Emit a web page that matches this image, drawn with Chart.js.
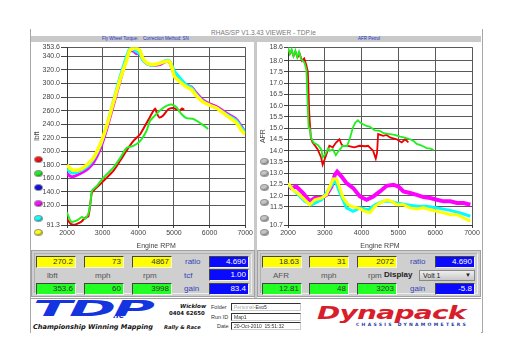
<!DOCTYPE html>
<html>
<head>
<meta charset="utf-8">
<script src="https://cdn.jsdelivr.net/npm/chart.js@4/dist/chart.umd.min.js"></script>
<style>
    body { margin: 0; width: 512px; height: 362px; background: #fff; position: relative; overflow: hidden; font-family: "Liberation Sans", Arial, sans-serif; }
    div, span, canvas { position: absolute; }
    #frame { left: 30px; top: 29px; width: 451px; height: 303px; border: 1px solid #a8a8a8; border-top: none; }
    #title { left: 211px; top: 29px; font-size: 6.5px; color: #777; white-space: nowrap; }
    .hdr { top: 36px; height: 6px; background: #c9c9c9; }
    .hdr span { top: 0; font-size: 4.5px; line-height: 6px; color: #2233cc; white-space: nowrap; }
    .divider { left: 254px; top: 36px; width: 3px; height: 262px; background: #c9c9c9; }
    .info { top: 250px; height: 47px; background: #cfcfcf; border: 1px solid #a0a0a0; box-sizing: border-box; }
    .info .inner { left: 2px; top: 2px; right: 2px; bottom: 2px; border: 1px solid #b0b0b0; border-bottom-color: #eee; border-right-color: #eee; }
    .box { height: 12px; width: 40px; box-sizing: border-box; font-size: 8px; line-height: 10px; text-align: right; padding-right: 2px; color: #333;
           border-top: 1px solid #444; border-left: 1px solid #444; border-bottom: 1px solid #f4f4f4; border-right: 1px solid #f4f4f4; }
    .yel { background: #ffff00; }
    .grn { background: #22ff22; }
    .blu { background: #0a0aff; color: #fff; }
    .lab { font-size: 8px; color: #555; white-space: nowrap; }
    .blab { font-size: 8px; color: #3344bb; white-space: nowrap; }
    .dot { width: 9px; height: 7px; border-radius: 50%; border: 1px solid #999; box-sizing: border-box; box-shadow: inset -1px -1px 1px rgba(0,0,0,0.35); }
    #strip { left: 31px; top: 298px; width: 450px; height: 34px; background: #fff; border-top: 1px solid #a0a0a0; }
    .small { font-size: 5.5px; color: #333; white-space: nowrap; }
    .field { left: 231px; width: 70px; height: 8px; box-sizing: border-box; border: 1px solid #333; border-right-color: #ccc; border-bottom-color: #ccc; font-size: 5px; line-height: 6px; padding-left: 2px; color: #333; white-space: nowrap; }
</style>
</head>
<body>
<div id="frame"></div>
<div id="title">RHAS/SP V1.3.43 VIEWER - TDP.ie</div>

<div class="hdr" style="left:31px;width:223px;">
    <span style="left:71px;">Fly Wheel Torque:</span>
    <span style="left:112px;">Correction Method: SN</span>
</div>
<div class="hdr" style="left:257px;width:224px;">
    <span style="left:101px;">AFR Petrol</span>
</div>
<div class="divider"></div>

<canvas id="torqueChart" width="223" height="208" style="left:31px;top:42px;"></canvas>
<canvas id="afrChart" width="224" height="208" style="left:257px;top:42px;"></canvas>

<!-- run colour buttons -->
<div class="dot" style="left:34px;top:156px;background:#ff1010;"></div>
<div class="dot" style="left:34px;top:170px;background:#22ee22;"></div>
<div class="dot" style="left:34px;top:184px;background:#1010ee;"></div>
<div class="dot" style="left:34px;top:200px;background:#ff10ff;"></div>
<div class="dot" style="left:34px;top:215px;background:#10ffff;"></div>
<div class="dot" style="left:34px;top:229px;background:#ffff10;"></div>
<div class="dot" style="left:260px;top:158px;background:#c4c4c4;"></div>
<div class="dot" style="left:260px;top:170px;background:#c4c4c4;"></div>
<div class="dot" style="left:260px;top:184px;background:#c4c4c4;"></div>
<div class="dot" style="left:260px;top:199px;background:#c4c4c4;"></div>
<div class="dot" style="left:260px;top:215px;background:#c4c4c4;"></div>
<div class="dot" style="left:260px;top:229px;background:#c4c4c4;"></div>

<!-- left read-out panel -->
<div class="info" style="left:31px;width:224px;"><div class="inner"></div></div>
<div class="box yel" style="left:36px;top:256px;">270.2</div>
<div class="box yel" style="left:84px;top:256px;">73</div>
<div class="box yel" style="left:132px;top:256px;">4867</div>
<div class="blab" style="left:185px;top:257px;">ratio</div>
<div class="box blu" style="left:209px;top:256px;">4.690</div>
<div class="lab" style="left:47px;top:271px;">lbft</div>
<div class="lab" style="left:95px;top:271px;">mph</div>
<div class="lab" style="left:143px;top:271px;">rpm</div>
<div class="blab" style="left:184px;top:271px;">tcf</div>
<div class="box blu" style="left:209px;top:269px;">1.00</div>
<div class="box grn" style="left:36px;top:283px;">353.6</div>
<div class="box grn" style="left:84px;top:283px;">60</div>
<div class="box grn" style="left:132px;top:283px;">3998</div>
<div class="blab" style="left:184px;top:284px;">gain</div>
<div class="box blu" style="left:209px;top:283px;">83.4</div>

<!-- right read-out panel -->
<div class="info" style="left:257px;width:224px;"><div class="inner"></div></div>
<div class="box yel" style="left:262px;top:256px;">18.63</div>
<div class="box yel" style="left:309px;top:256px;">31</div>
<div class="box yel" style="left:357px;top:256px;">2072</div>
<div class="blab" style="left:410px;top:257px;">ratio</div>
<div class="box blu" style="left:435px;top:256px;">4.690</div>
<div class="lab" style="left:273px;top:271px;">AFR</div>
<div class="lab" style="left:321px;top:271px;">mph</div>
<div class="lab" style="left:368px;top:271px;">rpm</div>
<div class="lab" style="left:384px;top:270px;font-weight:bold;color:#222;">Display</div>
<div style="left:419px;top:270px;width:56px;height:11px;box-sizing:border-box;border:1px solid #888;background:linear-gradient(#eee,#c8c8c8);font-size:7px;line-height:9px;padding-left:3px;color:#222;">Volt 1<span style="right:3px;top:0;font-size:6px;">&#9660;</span></div>
<div class="box grn" style="left:262px;top:283px;">12.81</div>
<div class="box grn" style="left:309px;top:283px;">48</div>
<div class="box grn" style="left:357px;top:283px;">3203</div>
<div class="blab" style="left:410px;top:284px;">gain</div>
<div class="box blu" style="left:435px;top:283px;">-5.8</div>

<!-- bottom strip with logos -->
<div id="strip"></div>
<div style="left:33px;top:297px;font:italic bold 21px 'DejaVu Sans';color:#1434e0;transform:scaleX(2.7);transform-origin:left top;white-space:nowrap;letter-spacing:-1px;">TDP</div>
<div style="left:113px;top:311px;font:italic bold 8px 'DejaVu Sans';color:#1434e0;">.ie</div>
<div style="left:33px;top:323px;font:italic bold 6.6px 'DejaVu Sans';color:#111;white-space:nowrap;">Championship Winning Mapping</div>
<div style="left:164px;top:324px;font:italic bold 5.2px 'DejaVu Sans';color:#111;white-space:nowrap;">Rally &amp; Race</div>
<div style="left:180px;top:303px;font:italic bold 5.6px 'DejaVu Sans';color:#111;white-space:nowrap;">Wicklow</div>
<div style="left:169px;top:310px;font:bold 5.4px 'DejaVu Sans';color:#111;white-space:nowrap;">0404 62650</div>
<div class="small" style="left:211px;top:304px;">Folder</div>
<div class="small" style="left:211px;top:314px;">Run ID</div>
<div class="small" style="left:217px;top:323px;">Date</div>
<div class="field" style="top:303px;"><span style="position:static;color:#aaa;filter:blur(0.6px);">Personal</span>-Evo5</div>
<div class="field" style="top:313px;">Map1</div>
<div class="field" style="top:322px;">20-Oct-2010&nbsp;&nbsp;15:51:32</div>
<div style="left:317px;top:302px;font:italic bold 18px 'DejaVu Sans';color:#d81e2a;transform:scaleX(1.56);transform-origin:left top;white-space:nowrap;letter-spacing:-0.5px;">Dynapack</div>
<div style="left:356px;top:322px;font:bold 4.5px 'DejaVu Sans';color:#1a3aa8;letter-spacing:2.3px;white-space:nowrap;">CHASSIS DYNAMOMETERS</div>

<script>
    // Faixa de rotação comum aos dois gráficos
    var rpmMin = 2000;
    var rpmMax = 7000;

    // Eixo de torque (lbft)
    var torqueTicks = [91.3, 120, 140, 160, 180, 200, 220, 240, 260, 280, 300, 320, 340, 353.6];

    // Eixo AFR
    var afrTicks = [10.7, 11.5, 12.0, 12.5, 13.0, 13.5, 14.0, 14.5, 15.0, 15.5, 16.0, 16.5, 17.0, 17.5, 18.0, 18.6];

    // Torque - corridas de cima (amarelo, ciano, magenta)
    var upperRpm = [2000, 2100, 2200, 2400, 2600, 2750, 2930, 3110, 3300, 3490, 3670, 3760, 3860, 3950, 4050, 4120, 4250, 4420, 4600, 4790, 4880, 4950, 5020, 5160, 5350, 5490, 5630, 5810, 6000, 6190, 6370, 6550, 6740, 6880, 7000];
    var yellowTq  = [180, 174, 172, 174, 182, 191, 210, 237, 272, 306, 334, 349, 352, 352, 348, 338, 330, 328, 330, 333, 332, 322, 310, 303, 295, 291, 282, 273, 268, 264, 257, 250, 243, 232, 225];
    var cyanTq    = [174, 169, 168, 172, 179, 189, 208, 237, 274, 310, 340, 351, 350, 347, 343, 335, 329, 327, 330, 334, 333, 326, 318, 309, 298, 294, 284, 274, 268, 264, 258, 252, 246, 236, 228];
    var magentaTq = [168, 163, 163, 168, 175, 184, 203, 232, 268, 304, 336, 348, 348, 344, 346, 336, 329, 327, 328, 333, 331, 322, 314, 307, 298, 295, 286, 276, 270, 266, 260, 254, 248, 238, 228];

    // Torque - corridas de baixo (vermelho, verde)
    var redTqRpm = [2000, 2100, 2190, 2280, 2400, 2510, 2600, 2660, 2700, 2840, 3020, 3300, 3490, 3670, 3860, 4050, 4140, 4320, 4470, 4530, 4590, 4700, 4840, 4980, 5160, 5230, 5290];
    var redTq    = [100, 93, 91.5, 93, 96, 102, 104, 125, 139, 147, 156, 171, 186, 201, 215, 225, 233, 250, 263, 255, 250, 253, 262, 264, 260, 263, 261];
    var greenTqRpm = [2000, 2070, 2140, 2220, 2280, 2420, 2510, 2600, 2660, 2700, 2840, 3020, 3300, 3490, 3670, 3860, 4050, 4230, 4330, 4470, 4600, 4790, 4930, 5070, 5210, 5350, 5530, 5670, 5810, 5960];
    var greenTq    = [110, 100, 95.6, 97, 98, 103, 100.5, 108, 125, 142, 149, 161, 176, 190, 205, 208, 215, 230, 245, 253, 260, 267, 269, 265, 255, 249, 248, 244, 239, 233];

    // AFR - corridas de cima (vermelho, verde)
    var redAfrRpm = [2000, 2050, 2100, 2150, 2200, 2260, 2320, 2380, 2440, 2500, 2540, 2580, 2620, 2667, 2804, 2900, 2941, 2980, 3015, 3124, 3216, 3300, 3398, 3450, 3490, 3627, 3800, 3947, 4100, 4175, 4312, 4385, 4420, 4449, 4587, 4680, 4770, 4860, 4953, 5090, 5181, 5272];
    var redAfr    = [18.5, 18.3, 18.45, 18.2, 18.4, 18.15, 18.3, 18.0, 18.1, 17.8, 17.5, 15.6, 14.6, 14.37, 14.07, 13.7, 13.38, 13.55, 13.7, 14.22, 14.15, 14.35, 14.51, 14.3, 14.22, 14.22, 14.15, 14.22, 14.2, 14.22, 14.0, 13.65, 13.9, 14.74, 14.66, 14.7, 14.59, 14.55, 14.51, 14.37, 14.51, 14.37];
    var greenAfrRpm = [2000, 2050, 2100, 2150, 2200, 2250, 2300, 2350, 2400, 2450, 2500, 2530, 2560, 2590, 2621, 2700, 2818, 2909, 2941, 3015, 3090, 3136, 3216, 3300, 3364, 3490, 3600, 3673, 3764, 3830, 3900, 3960, 4038, 4130, 4220, 4364, 4495, 4600, 4770, 4900, 5044, 5180, 5318, 5420, 5500, 5600, 5683, 5773, 5850, 5957];
    var greenAfr    = [18.6, 18.3, 18.5, 18.2, 18.45, 18.15, 18.4, 18.1, 18.0, 17.9, 17.6, 16.2, 15.0, 15.0, 14.6, 14.35, 14.25, 14.05, 13.7, 13.85, 14.1, 14.0, 14.07, 13.8, 13.96, 14.22, 14.2, 14.5, 15.03, 15.25, 15.35, 15.25, 15.18, 15.1, 15.07, 14.9, 14.88, 14.78, 14.74, 14.7, 14.63, 14.58, 14.51, 14.42, 14.3, 14.25, 14.19, 14.12, 14.1, 14.04];

    // AFR - corridas de baixo (magenta, ciano, amarelo)
    var magentaAfrRpm = [2000, 2090, 2227, 2409, 2590, 2727, 2909, 3045, 3182, 3273, 3336, 3455, 3590, 3772, 3954, 4136, 4318, 4500, 4682, 4864, 5000, 5136, 5318, 5500, 5682, 5864, 6045, 6227, 6409, 6591, 6773, 6955];
    var magentaAfr    = [12.49, 12.34, 12.41, 12.12, 11.75, 11.9, 11.9, 12.04, 12.41, 12.93, 13.07, 12.85, 12.56, 12.34, 11.97, 11.82, 11.97, 12.19, 12.44, 12.49, 12.41, 12.19, 12.12, 12.04, 11.94, 11.9, 11.82, 11.75, 11.75, 11.68, 11.68, 11.6];
    var cyanAfrRpm = [2000, 2227, 2455, 2636, 2909, 3136, 3273, 3410, 3590, 3772, 3954, 4182, 4364, 4591, 4773, 4954, 5227, 5500, 5773, 6045, 6409, 6682, 6955];
    var cyanAfr    = [12.49, 12.12, 11.75, 11.6, 11.82, 12.34, 12.71, 12.12, 11.46, 11.31, 11.46, 11.38, 11.6, 11.75, 11.75, 11.68, 11.6, 11.53, 11.53, 11.46, 11.35, 11.24, 11.09];
    var yellowAfrRpm = [2000, 2136, 2318, 2500, 2590, 2727, 2909, 3045, 3136, 3227, 3318, 3390, 3500, 3636, 3772, 3909, 4090, 4227, 4364, 4500, 4682, 4818, 4954, 5136, 5318, 5500, 5682, 5864, 6045, 6227, 6409, 6591, 6773, 6955];
    var yellowAfr    = [12.56, 12.26, 12.04, 11.75, 11.6, 11.82, 11.9, 12.04, 12.41, 12.74, 12.74, 12.41, 11.9, 11.6, 11.5, 11.46, 11.31, 11.24, 11.53, 11.68, 11.82, 11.75, 11.6, 11.6, 11.46, 11.41, 11.46, 11.38, 11.31, 11.24, 11.16, 11.16, 11.01, 10.87];

    Chart.defaults.font.family = '"Liberation Sans", Arial, sans-serif';
    Chart.defaults.font.size = 7;
    Chart.defaults.color = '#444';

    // Junta rpm + valores em pontos {x, y}
    function pontos(rpm, valores) {
        return rpm.map(function (r, i) { return { x: r, y: valores[i] }; });
    }

    function serie(rpm, valores, cor, largura, tensao) {
        return {
            data: pontos(rpm, valores),
            borderColor: cor,
            borderWidth: largura,
            pointRadius: 0,
            tension: tensao,
            fill: false
        };
    }

    // Função para montar cada gráfico do dinamômetro
    function gerarGrafico(id, datasets, ticks, titulo, larguraEixo, tickLen, padDireita) {
        var ctx = document.getElementById(id).getContext('2d');
        return new Chart(ctx, {
            type: 'line',
            data: { datasets: datasets },
            options: {
                responsive: false,
                animation: false,
                layout: { padding: { top: 4, right: padDireita, left: 0, bottom: 0 } },
                plugins: { legend: { display: false }, tooltip: { enabled: false } },
                scales: {
                    x: {
                        type: 'linear',
                        min: rpmMin,
                        max: rpmMax,
                        ticks: {
                            stepSize: 500,
                            padding: 1,
                            maxRotation: 0,
                            callback: function (v) { return String(v); }
                        },
                        grid: { color: '#5a5a5a', tickLength: 3, tickColor: '#444' },
                        border: { color: '#333' },
                        title: { display: true, text: 'Engine RPM', padding: { top: 1, bottom: 0 }, font: { size: 7 } },
                        afterFit: function (axis) { axis.height = 25; }
                    },
                    y: {
                        type: 'linear',
                        min: ticks[0],
                        max: ticks[ticks.length - 1],
                        afterBuildTicks: function (axis) {
                            axis.ticks = ticks.map(function (v) { return { value: v }; });
                        },
                        ticks: {
                            padding: 1,
                            autoSkip: false,
                            callback: function (v) { return Number(v).toFixed(1); }
                        },
                        grid: { color: '#5a5a5a', tickLength: tickLen, tickColor: '#444' },
                        border: { color: '#333' },
                        title: { display: true, text: titulo, padding: { top: 2, bottom: 0 }, font: { size: 7 } },
                        afterFit: function (axis) { axis.width = larguraEixo; }
                    }
                }
            }
        });
    }

    // Torque: amarelo por cima, depois ciano, magenta, verde, vermelho
    gerarGrafico('torqueChart', [
        serie(upperRpm, yellowTq, '#ffff00', 3.5, 0.3),
        serie(upperRpm, cyanTq, '#00ffff', 3, 0.3),
        serie(upperRpm, magentaTq, '#ff00ff', 3, 0.3),
        serie(greenTqRpm, greenTq, '#22ee22', 2, 0.2),
        serie(redTqRpm, redTq, '#ee0000', 2, 0.2)
    ], torqueTicks, 'lbft', 36, 6, 8);

    // AFR
    gerarGrafico('afrChart', [
        serie(yellowAfrRpm, yellowAfr, '#ffff00', 3, 0),
        serie(cyanAfrRpm, cyanAfr, '#00ffff', 3, 0),
        serie(magentaAfrRpm, magentaAfr, '#ff00ff', 4, 0),
        serie(greenAfrRpm, greenAfr, '#22ee22', 1.8, 0),
        serie(redAfrRpm, redAfr, '#ee0000', 1.8, 0)
    ], afrTicks, 'AFR', 31, 4, 9);
</script>
</body>
</html>
